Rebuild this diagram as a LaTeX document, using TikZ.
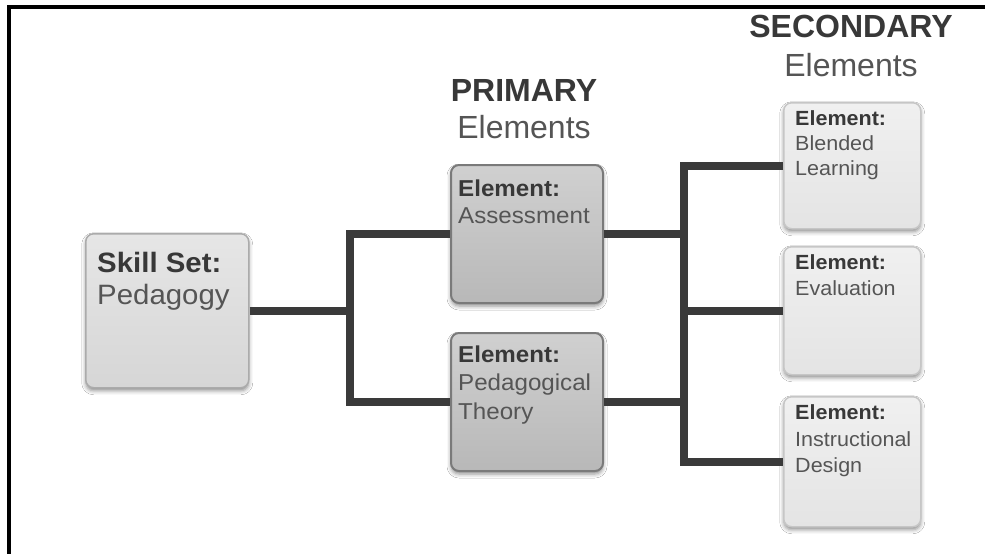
\documentclass[tikz,border=0pt]{standalone}
\usepackage{fontspec}
\setmainfont{Liberation Sans}
\newfontfamily\boxfont[FakeStretch=1.05]{Liberation Sans}
\usetikzlibrary{shadows.blur}
\definecolor{conncol}{HTML}{3A3A3A}
\definecolor{boldtxt}{HTML}{383838}
\definecolor{regtxt}{HTML}{555555}
\definecolor{skilltop}{HTML}{E6E6E6}
\definecolor{skillbot}{HTML}{D6D6D6}
\definecolor{skillline}{HTML}{ABABAB}
\definecolor{primtop}{HTML}{D0D0D0}
\definecolor{primbot}{HTML}{B8B8B8}
\definecolor{primline}{HTML}{7A7A7A}
\definecolor{sectop}{HTML}{F0F0F0}
\definecolor{secbot}{HTML}{E4E4E4}
\definecolor{secline}{HTML}{C6C6C6}
\begin{document}
\begin{tikzpicture}[x=1pt,y=-1pt,
  conn/.style={draw=conncol, line width=8pt, line join=miter},
  boxbase/.style={rounded corners=8pt, anchor=north west, inner sep=0pt,
    blur shadow={shadow xshift=0pt, shadow yshift=-3pt, shadow blur radius=4pt, shadow opacity=45}},
  skillbox/.style={boxbase, draw=skillline, line width=1.5pt, top color=skilltop, bottom color=skillbot},
  primbox/.style={boxbase, draw=primline, line width=2pt, top color=primtop, bottom color=primbot},
  secbox/.style={boxbase, draw=secline, line width=1.5pt, top color=sectop, bottom color=secbot},
  bigb/.style={anchor=base west, inner sep=0pt, text=boldtxt, font=\boxfont\bfseries\fontsize{28}{32}\selectfont},
  bigr/.style={anchor=base west, inner sep=0pt, text=regtxt, font=\boxfont\fontsize{28}{32}\selectfont},
  midb/.style={anchor=base west, inner sep=0pt, text=boldtxt, font=\boxfont\bfseries\fontsize{23}{28}\selectfont},
  midr/.style={anchor=base west, inner sep=0pt, text=regtxt, font=\boxfont\fontsize{23}{28}\selectfont},
  smlb/.style={anchor=base west, inner sep=0pt, text=boldtxt, font=\boxfont\bfseries\fontsize{20.5}{25}\selectfont},
  smlr/.style={anchor=base west, inner sep=0pt, text=regtxt, font=\boxfont\fontsize{20.5}{25}\selectfont},
  titleb/.style={anchor=base, inner sep=0pt, text=boldtxt, font=\bfseries\fontsize{32}{36}\selectfont},
  titler/.style={anchor=base, inner sep=0pt, text=regtxt, font=\fontsize{32}{36}\selectfont}
]
\useasboundingbox (0,0) rectangle (985,554);
\fill[white] (0,0) rectangle (985,554);
% frame
\draw[line width=3.5pt, line join=miter] (9,554) -- (9,7) -- (985,7);

% boxes
\node[skillbox, minimum width=163pt, minimum height=154pt] (skill) at (85,233) {};
\node[primbox, minimum width=152pt, minimum height=138pt] (assess) at (450,164) {};
\node[primbox, minimum width=152pt, minimum height=138pt] (ped) at (450,332) {};
\node[secbox, minimum width=137pt, minimum height=126pt] (blend) at (783,102) {};
\node[secbox, minimum width=137pt, minimum height=128pt] (eval) at (783,246) {};
\node[secbox, minimum width=137pt, minimum height=130pt] (instr) at (783,396) {};

% connectors
\path (skill.east) ++(100,0) coordinate (j1);
\path (eval.west) ++(-99,0) coordinate (j2);
\draw[conn] (skill.east) -- (j1);
\draw[conn] (assess.west) -| (j1) |- (ped.west);
\draw[conn] (assess.east) -- (assess.east -| j2);
\draw[conn] (ped.east) -- (ped.east -| j2);
\draw[conn] (blend.west) -| (j2) |- (instr.west);
\draw[conn] (eval.west) -- (j2);

% titles
\node[titleb] (ptitle) at (524,101) {PRIMARY};
\node[titler] (ptitle2) at (524,138) {Elements};
\node[titleb] (stitle) at (851,37) {SECONDARY};
\node[titler] (stitle2) at (851,76) {Elements};

% texts
\node[bigb] (t1a) at (97,272) {Skill Set:};
\node[bigr] (t1b) at (97,304) {Pedagogy};
\node[midb] (t2a) at (458,196) {Element:};
\node[midr] (t2b) at (458,223) {Assessment};
\node[midb] (t3a) at (458,362) {Element:};
\node[midr] (t3b) at (458,390) {Pedagogical};
\node[midr] (t3c) at (458,419) {Theory};
\node[smlb] (t4a) at (795,125) {Element:};
\node[smlr] (t4b) at (795,150) {Blended};
\node[smlr] (t4c) at (795,175) {Learning};
\node[smlb] (t5a) at (795,269) {Element:};
\node[smlr] (t5b) at (795,295) {Evaluation};
\node[smlb] (t6a) at (795,419) {Element:};
\node[smlr] (t6b) at (795,446) {Instructional};
\node[smlr] (t6c) at (795,472) {Design};
\end{tikzpicture}
\end{document}
